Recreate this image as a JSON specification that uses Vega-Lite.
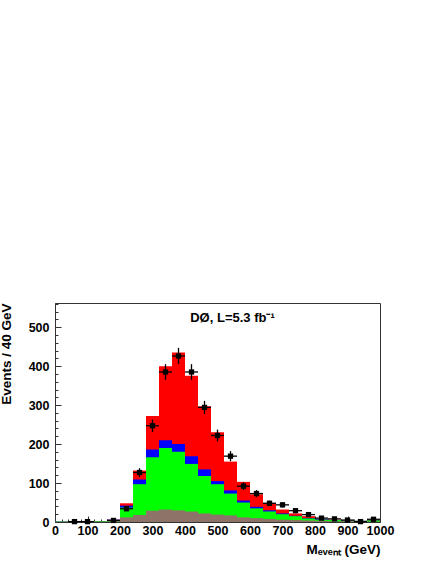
{
  "$schema": "https://vega.github.io/schema/vega-lite/v6.json",
  "autosize": {"type": "none"},
  "padding": {"left": 55, "top": 303, "right": 56, "bottom": 42},
  "width": 325,
  "height": 219,
  "background": "white",
  "config": {
    "font": "Liberation Sans",
    "view": {"stroke": "#333333", "strokeWidth": 1},
    "axis": {"labelFont": "Liberation Sans", "labelFontWeight": "bold", "labelFontSize": 12.5, "labelColor": "black", "titleFont": "Liberation Sans", "titleFontWeight": "bold", "titleFontSize": 13.5, "titleColor": "black", "grid": false, "domainColor": "#333333", "tickColor": "#333333"}
  },
  "title": {"text": "DØ, L=5.3 fb⁻¹", "frame": "group", "anchor": "middle", "offset": -22, "dx": 15, "fontSize": 13, "fontWeight": "bold", "font": "Liberation Sans", "color": "black"},
  "datasets": {
    "hist": [
      {"lo": 0, "hi": 40, "ttbar": 1, "blue": 1, "green": 1, "brown": 0},
      {"lo": 40, "hi": 80, "ttbar": 1, "blue": 1, "green": 1, "brown": 0},
      {"lo": 80, "hi": 120, "ttbar": 1, "blue": 1, "green": 1, "brown": 0},
      {"lo": 120, "hi": 160, "ttbar": 2, "blue": 2, "green": 2, "brown": 1},
      {"lo": 160, "hi": 200, "ttbar": 6, "blue": 6, "green": 4, "brown": 2},
      {"lo": 200, "hi": 240, "ttbar": 48, "blue": 42, "green": 37, "brown": 12},
      {"lo": 240, "hi": 280, "ttbar": 132, "blue": 109, "green": 97, "brown": 18},
      {"lo": 280, "hi": 320, "ttbar": 272, "blue": 186, "green": 166, "brown": 29},
      {"lo": 320, "hi": 360, "ttbar": 400, "blue": 210, "green": 190, "brown": 32},
      {"lo": 360, "hi": 400, "ttbar": 435, "blue": 200, "green": 180, "brown": 30},
      {"lo": 400, "hi": 440, "ttbar": 375, "blue": 169, "green": 149, "brown": 27},
      {"lo": 440, "hi": 480, "ttbar": 297, "blue": 135, "green": 118, "brown": 22},
      {"lo": 480, "hi": 520, "ttbar": 230, "blue": 105, "green": 97, "brown": 19},
      {"lo": 520, "hi": 560, "ttbar": 155, "blue": 81, "green": 73, "brown": 17},
      {"lo": 560, "hi": 600, "ttbar": 103, "blue": 55, "green": 50, "brown": 12},
      {"lo": 600, "hi": 640, "ttbar": 71, "blue": 39, "green": 35, "brown": 10},
      {"lo": 640, "hi": 680, "ttbar": 49, "blue": 30, "green": 27, "brown": 8},
      {"lo": 680, "hi": 720, "ttbar": 32, "blue": 22, "green": 20, "brown": 6},
      {"lo": 720, "hi": 760, "ttbar": 22, "blue": 16, "green": 15, "brown": 5},
      {"lo": 760, "hi": 800, "ttbar": 15, "blue": 10, "green": 9, "brown": 4},
      {"lo": 800, "hi": 840, "ttbar": 8, "blue": 7, "green": 6, "brown": 3},
      {"lo": 840, "hi": 880, "ttbar": 6, "blue": 5, "green": 5, "brown": 2},
      {"lo": 880, "hi": 920, "ttbar": 4, "blue": 4, "green": 3, "brown": 2},
      {"lo": 920, "hi": 960, "ttbar": 3, "blue": 3, "green": 3, "brown": 1},
      {"lo": 960, "hi": 1000, "ttbar": 5, "blue": 4, "green": 4, "brown": 1}
    ],
    "pts": [
      {"m": 60, "lo": 40, "hi": 80, "n": 1, "nlo": 0, "nhi": 2},
      {"m": 100, "lo": 80, "hi": 120, "n": 1, "nlo": 0, "nhi": 2},
      {"m": 180, "lo": 160, "hi": 200, "n": 4, "nlo": 2, "nhi": 6},
      {"m": 220, "lo": 200, "hi": 240, "n": 34, "nlo": 28, "nhi": 40},
      {"m": 260, "lo": 240, "hi": 280, "n": 127, "nlo": 116, "nhi": 138},
      {"m": 300, "lo": 280, "hi": 320, "n": 247, "nlo": 231, "nhi": 263},
      {"m": 340, "lo": 320, "hi": 360, "n": 385, "nlo": 365, "nhi": 405},
      {"m": 380, "lo": 360, "hi": 400, "n": 426, "nlo": 405, "nhi": 447},
      {"m": 420, "lo": 400, "hi": 440, "n": 385, "nlo": 365, "nhi": 405},
      {"m": 460, "lo": 440, "hi": 480, "n": 294, "nlo": 277, "nhi": 311},
      {"m": 500, "lo": 480, "hi": 520, "n": 222, "nlo": 207, "nhi": 237},
      {"m": 540, "lo": 520, "hi": 560, "n": 169, "nlo": 156, "nhi": 182},
      {"m": 580, "lo": 560, "hi": 600, "n": 92, "nlo": 82, "nhi": 102},
      {"m": 620, "lo": 600, "hi": 640, "n": 73, "nlo": 64, "nhi": 82},
      {"m": 660, "lo": 640, "hi": 680, "n": 48, "nlo": 41, "nhi": 55},
      {"m": 700, "lo": 680, "hi": 720, "n": 44, "nlo": 37, "nhi": 51},
      {"m": 740, "lo": 720, "hi": 760, "n": 29, "nlo": 24, "nhi": 34},
      {"m": 780, "lo": 760, "hi": 800, "n": 19, "nlo": 15, "nhi": 23},
      {"m": 820, "lo": 800, "hi": 840, "n": 10, "nlo": 7, "nhi": 13},
      {"m": 860, "lo": 840, "hi": 880, "n": 8, "nlo": 5, "nhi": 11},
      {"m": 900, "lo": 880, "hi": 920, "n": 5, "nlo": 3, "nhi": 7},
      {"m": 940, "lo": 920, "hi": 960, "n": 1, "nlo": 0, "nhi": 2},
      {"m": 980, "lo": 960, "hi": 1000, "n": 7, "nlo": 4, "nhi": 10}
    ]
  },
  "resolve": {"axis": {"x": "independent", "y": "independent"}},
  "layer": [
    {
      "data": {"name": "hist"},
      "mark": {"type": "rect", "color": "#ff0000"},
      "encoding": {
        "x": {"field": "lo", "type": "quantitative", "scale": {"domain": [0, 1000], "nice": false, "zero": false},
              "axis": {"orient": "bottom", "values": [0, 100, 200, 300, 400, 500, 600, 700, 800, 900, 1000], "format": "d", "tickSize": -6, "labelPadding": 8, "labelBaseline": "top", "labelFlush": false, "labelOverlap": false,
                       "title": "Mₑᵥₑₙₜ (GeV)", "titleX": 325, "titleY": 31, "titleAlign": "right", "titleBaseline": "alphabetic", "titleAnchor": null}},
        "x2": {"field": "hi"},
        "y": {"field": "ttbar", "type": "quantitative", "scale": {"domain": [0, 562], "nice": false},
              "axis": {"orient": "left", "values": [0, 100, 200, 300, 400, 500], "tickSize": -6, "labelPadding": 12, "labelFlush": false,
                       "title": "Events / 40 GeV", "titleX": -49, "titleY": 0, "titleAngle": 270, "titleAlign": "right", "titleBaseline": "middle", "titleAnchor": null}},
        "y2": {"datum": 0}
      }
    },
    {
      "data": {"name": "hist"},
      "mark": {"type": "rect", "color": "#0000ff"},
      "encoding": {
        "x": {"field": "lo", "type": "quantitative", "axis": null},
        "x2": {"field": "hi"},
        "y": {"field": "blue", "type": "quantitative", "axis": null},
        "y2": {"datum": 0}
      }
    },
    {
      "data": {"name": "hist"},
      "mark": {"type": "rect", "color": "#00ff00"},
      "encoding": {
        "x": {"field": "lo", "type": "quantitative", "axis": null},
        "x2": {"field": "hi"},
        "y": {"field": "green", "type": "quantitative", "axis": null},
        "y2": {"datum": 0}
      }
    },
    {
      "data": {"name": "hist"},
      "mark": {"type": "rect", "color": "#8e7468"},
      "encoding": {
        "x": {"field": "lo", "type": "quantitative",
              "axis": {"orient": "bottom", "values": [20,40,60,80,120,140,160,180,220,240,260,280,320,340,360,380,420,440,460,480,520,540,560,580,620,640,660,680,720,740,760,780,820,840,860,880,920,940,960,980], "tickSize": -3, "labels": false, "domain": false, "title": null}},
        "x2": {"field": "hi"},
        "y": {"field": "brown", "type": "quantitative",
              "axis": {"orient": "left", "values": [20,40,60,80,120,140,160,180,220,240,260,280,320,340,360,380,420,440,460,480,520,540,560], "tickSize": -3, "labels": false, "domain": false, "title": null}},
        "y2": {"datum": 0}
      }
    },
    {
      "data": {"name": "pts"},
      "mark": {"type": "rule", "color": "black", "strokeWidth": 1.3},
      "encoding": {
        "x": {"field": "lo", "type": "quantitative", "axis": null},
        "x2": {"field": "hi"},
        "y": {"field": "n", "type": "quantitative", "axis": null}
      }
    },
    {
      "data": {"name": "pts"},
      "mark": {"type": "rule", "color": "black", "strokeWidth": 1.3},
      "encoding": {
        "x": {"field": "m", "type": "quantitative", "axis": null},
        "y": {"field": "nlo", "type": "quantitative", "axis": null},
        "y2": {"field": "nhi"}
      }
    },
    {
      "data": {"name": "pts"},
      "mark": {"type": "point", "shape": "square", "filled": true, "color": "black", "size": 28, "opacity": 1},
      "encoding": {
        "x": {"field": "m", "type": "quantitative", "axis": null},
        "y": {"field": "n", "type": "quantitative", "axis": null}
      }
    }
  ]
}
